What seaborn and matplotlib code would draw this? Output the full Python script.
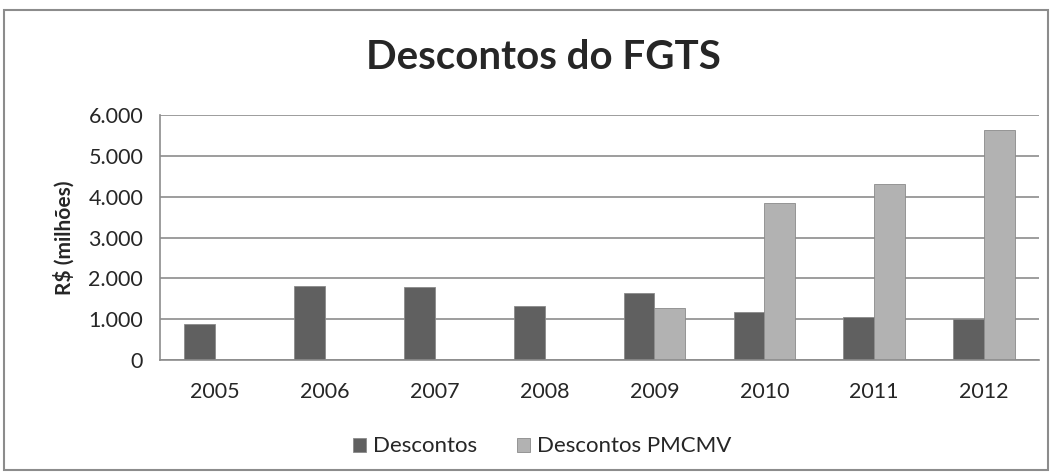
import numpy as np
import pandas as pd
import matplotlib
matplotlib.use("Agg")
import matplotlib.pyplot as plt
from matplotlib.ticker import FuncFormatter, FixedLocator
from matplotlib.patches import Rectangle
import seaborn as sns

years = ["2005", "2006", "2007", "2008", "2009", "2010", "2011", "2012"]
descontos = [890, 1805, 1780, 1325, 1635, 1170, 1055, 1000]
descontos_pmcmv = [np.nan, np.nan, np.nan, np.nan, 1270, 3850, 4300, 5640]
series = ["Descontos", "Descontos PMCMV"]
colors = ["#606060", "#b2b2b2"]

df = pd.DataFrame({
    "ano": years * 2,
    "valor": descontos + descontos_pmcmv,
    "serie": [series[0]] * len(years) + [series[1]] * len(years),
})

sns.set_style("white")
plt.rcParams["font.family"] = ["Lato", "DejaVu Sans"]

fig = plt.figure(figsize=(10.52, 4.76), dpi=100)
ax = fig.add_axes([0.152, 0.2437, 0.8357, 0.5147])

sns.barplot(data=df, x="ano", y="valor", hue="serie", hue_order=series,
            palette=colors, width=0.56, gap=0, ax=ax, errorbar=None,
            edgecolor="#8a8a8a", linewidth=0.6, saturation=1)

ax.set_ylim(0, 6000)
ax.set_xlim(-0.5, len(years) - 0.5)
ax.set_yticks(range(0, 6001, 1000))
ax.yaxis.set_major_formatter(FuncFormatter(lambda v, p: f"{int(v):,}".replace(",", ".")))
ax.yaxis.grid(True, color="#8c8c8c", linewidth=1.2)
ax.set_axisbelow(True)

for s in ["top", "right"]:
    ax.spines[s].set_visible(False)
for s in ["left", "bottom"]:
    ax.spines[s].set_color("#8c8c8c")
    ax.spines[s].set_linewidth(1.2)

ax.tick_params(axis="y", which="major", length=8, width=1.2, color="#8c8c8c",
               direction="out", labelsize=15.5, pad=4)
ax.tick_params(axis="x", which="major", length=0, labelsize=15.5, pad=16)
ax.xaxis.set_minor_locator(FixedLocator(np.arange(-0.5, len(years), 1.0)))
ax.tick_params(axis="x", which="minor", length=7, width=1.2, color="#8c8c8c", direction="out")

ax.set_xlabel("")
ax.set_ylabel("R$ (milhões)", fontsize=15, fontweight="bold", labelpad=10)

fig.text(0.517, 0.88, "Descontos do FGTS", ha="center", va="center",
         fontsize=29, fontweight="bold")

handles, labels = ax.get_legend_handles_labels()
ax.legend_.remove()
fig.legend(handles, labels, loc="center", bbox_to_anchor=(0.515, 0.062), ncol=2,
           frameon=False, fontsize=16, handlelength=0.6, handleheight=0.6,
           handletextpad=0.3, columnspacing=1.8)

fig.patches.append(Rectangle((0.004, 0.012), 0.992, 0.966, transform=fig.transFigure,
                             fill=False, edgecolor="#8c8c8c", linewidth=1.5))

fig.savefig("out.png", dpi=100)
